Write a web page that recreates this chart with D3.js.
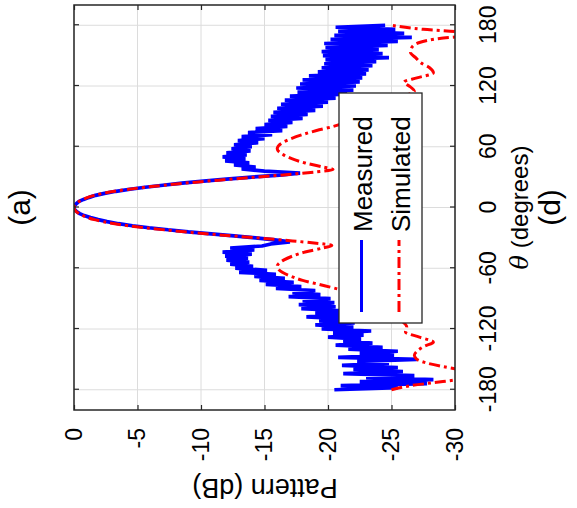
<!DOCTYPE html>
<html><head><meta charset="utf-8">
<script src="https://cdn.jsdelivr.net/npm/d3@7"></script>
<style>body{margin:0;background:#fff;} svg{display:block;font-family:"Liberation Sans",Arial,sans-serif;}</style>
</head><body>
<svg id="chart" width="577" height="508"></svg>
<script>
// ---- data ----
const thetaTicks = [-180, -120, -60, 0, 60, 120, 180];
const dbTicks = [0, -5, -10, -15, -20, -25, -30];
const seriesNames = ["Measured", "Simulated"];

// Measured pattern (dB), theta from -180 to 180 in 2-degree steps
const measuredStart = -180, measuredStep = 2;
const measuredValues = [
  -20.5, -25.5, -21.0, -27.8, -22.5, -28.3, -23.0, -26.8, -21.2, -25.9,
  -22.0, -25.5, -21.1, -24.8, -22.3, -27.0, -20.8, -25.2, -22.5, -25.5,
  -21.6, -24.3, -20.6, -23.5, -21.2, -22.6, -20.0, -22.8, -20.4, -23.4,
  -19.5, -22.0, -19.0, -22.1, -19.3, -21.5, -18.3, -21.2, -19.0, -21.3,
  -17.9, -20.6, -17.7, -20.5, -18.0, -20.2, -16.9, -19.4, -17.2, -19.0,
  -15.9, -17.9, -15.1, -17.3, -14.6, -16.6, -14.2, -15.9, -13.0, -15.2,
  -12.7, -14.1, -12.3, -13.8, -12.0, -13.7, -11.9, -14.0, -11.7, -14.2,
  -12.3, -14.8, -15.5, -17.0, -15.8, -14.3, -12.6, -10.8, -9.0, -7.4,
  -5.9, -4.6, -3.5, -2.6, -1.9, -1.3, -0.8, -0.45, -0.2, -0.05,
  0,
  -0.05, -0.2, -0.4, -0.75, -1.2, -1.7, -2.4, -3.3, -4.4, -5.6,
  -7.0, -8.5, -10.2, -12.0, -14.0, -16.2, -17.8, -15.0, -13.2, -14.3,
  -12.6, -13.8, -11.9, -13.5, -11.7, -13.6, -12.0, -13.9, -12.4, -14.0,
  -12.6, -14.5, -12.9, -15.0, -13.2, -15.6, -13.7, -16.4, -14.3, -16.8,
  -15.0, -17.2, -15.3, -18.0, -15.5, -18.4, -15.7, -19.0, -16.0, -19.6,
  -16.3, -20.0, -16.6, -20.6, -17.0, -21.5, -17.6, -22.0, -17.5, -22.2,
  -17.8, -22.5, -18.0, -22.7, -18.5, -23.0, -19.2, -23.2, -19.5, -23.5,
  -19.7, -23.8, -19.8, -24.8, -19.6, -24.3, -19.5, -24.0, -19.8, -24.7,
  -19.7, -25.5, -20.2, -26.6, -20.5, -26.0, -20.8, -25.3, -20.6, -24.5
];

// Simulated pattern: theta (deg) and dB
const simulatedTheta = [
  -180, -176, -173, -170, -167, -164, -161, -157, -153, -150, -146, -142, -137, -133,
  -128, -123, -118, -110, -100, -90, -81, -76, -72, -68, -64, -58, -52, -48, -44, -40,
  -37.5, -35, -33, -30, -27, -24, -20, -16, -12, -8, -4, 0,
  4, 8, 12, 16, 20, 24, 27, 30, 33, 35, 37.5, 40, 44, 48, 52, 58, 64, 68, 72, 76,
  80, 84, 90, 100, 110, 115, 119, 124, 128, 133, 138, 143, 148, 153, 158, 163, 167,
  170, 173, 176, 180
];
const simulatedValues = [
  -25.0, -26.5, -28.3, -30.2, -31.5, -32.0, -30.8, -29.0, -27.6, -27.0, -26.8, -27.0, -27.6, -28.3,
  -27.2, -26.1, -26.2, -25.6, -24.4, -22.8, -20.9, -19.3, -18.0, -17.1, -16.4, -16.0, -16.5, -17.2, -18.2, -19.6,
  -20.3, -18.9, -17.2, -14.4, -11.4, -8.7, -5.6, -3.2, -1.6, -0.7, -0.18, 0,
  -0.18, -0.7, -1.6, -3.2, -5.6, -8.7, -11.4, -14.4, -17.2, -18.9, -20.4, -19.6, -18.2, -17.2, -16.5, -16.0, -16.4, -17.1, -18.0, -19.1,
  -20.4, -21.4, -22.6, -24.6, -26.0, -26.8, -26.5, -26.0, -27.0, -28.3, -28.0, -27.3, -26.9, -26.5, -26.6, -27.2, -28.8,
  -31.0, -30.5, -27.5, -25.0
];

// ---- layout (drawn in the un-rotated frame, then rotated -90deg) ----
const svg = d3.select("#chart");
const g = svg.append("g").attr("transform", "translate(0,508) rotate(-90)");

const x = d3.scaleLinear().domain([-200, 200]).range([98, 503]);
const y = d3.scaleLinear().domain([0, -30]).range([74, 455]);

const axisColor = "#262626";
const gridColor = "#dcdcdc";

g.append("rect").attr("x", 98).attr("y", 74).attr("width", 405).attr("height", 381).attr("fill", "#fff");

// grid
g.append("g").selectAll("line").data(thetaTicks).join("line")
  .attr("x1", d => x(d)).attr("x2", d => x(d)).attr("y1", 74).attr("y2", 455)
  .attr("stroke", gridColor).attr("stroke-width", 1);
g.append("g").selectAll("line").data(dbTicks).join("line")
  .attr("x1", 98).attr("x2", 503).attr("y1", d => y(d)).attr("y2", d => y(d))
  .attr("stroke", gridColor).attr("stroke-width", 1);

svg.append("defs").append("clipPath").attr("id", "clip")
  .append("rect").attr("x", 98).attr("y", 74).attr("width", 405).attr("height", 381);

const measured = measuredValues.map((v, i) => [measuredStart + i * measuredStep, v]);
const simulated = simulatedTheta.map((t, i) => [t, simulatedValues[i]]);

const plot = g.append("g").attr("clip-path", "url(#clip)");
plot.append("path").datum(measured)
  .attr("d", d3.line().x(d => x(d[0])).y(d => y(d[1])))
  .attr("fill", "none").attr("stroke", "#0000ff").attr("stroke-width", 3.7)
  .attr("stroke-linejoin", "bevel");
plot.append("path").datum(simulated)
  .attr("d", d3.line().x(d => x(d[0])).y(d => y(d[1])).curve(d3.curveMonotoneX))
  .attr("fill", "none").attr("stroke", "#ff0000").attr("stroke-width", 3)
  .attr("stroke-dasharray", "11,4,3,4");

// axes
const fontTick = 23;
const axB = g.append("g").attr("transform", "translate(0,455)")
  .call(d3.axisBottom(x).tickValues(thetaTicks).tickSizeInner(-5).tickSizeOuter(0).tickPadding(25));
const axL = g.append("g").attr("transform", "translate(98,0)")
  .call(d3.axisLeft(y).tickValues(dbTicks).tickSizeInner(-5).tickSizeOuter(0).tickPadding(18));
const axT = g.append("g").attr("transform", "translate(0,74)")
  .call(d3.axisTop(x).tickValues(thetaTicks).tickSizeInner(-5).tickSizeOuter(0).tickFormat(""));
const axR = g.append("g").attr("transform", "translate(503,0)")
  .call(d3.axisRight(y).tickValues(dbTicks).tickSizeInner(-5).tickSizeOuter(0).tickFormat(""));
[axB, axL, axT, axR].forEach(a => {
  a.select(".domain").remove();
  a.selectAll("line").attr("stroke", axisColor).attr("stroke-width", 1.2);
  a.selectAll("text").attr("fill", "#000").attr("font-size", fontTick)
    .attr("font-family", '"Liberation Sans", Arial, sans-serif');
});
axL.selectAll("text").text(d => String(d));
axB.selectAll("text").text(d => String(d));

g.append("rect").attr("x", 98).attr("y", 74).attr("width", 405).attr("height", 381)
  .attr("fill", "none").attr("stroke", axisColor).attr("stroke-width", 1.5);

// legend
const lg = g.append("g");
lg.append("rect").attr("x", 185).attr("y", 339).attr("width", 230).attr("height", 83)
  .attr("fill", "#fff").attr("stroke", axisColor).attr("stroke-width", 1.3);
const legendRows = [
  {name: seriesNames[0], color: "#0000ff", dash: null, ly: 361.5, ty: 372},
  {name: seriesNames[1], color: "#ff0000", dash: "11,4,3,4", ly: 399, ty: 410}
];
legendRows.forEach(r => {
  lg.append("line").attr("x1", 196).attr("x2", 268).attr("y1", r.ly).attr("y2", r.ly)
    .attr("stroke", r.color).attr("stroke-width", 3)
    .attr("stroke-dasharray", r.dash);
  lg.append("text").attr("x", 276).attr("y", r.ty).attr("font-size", 26).attr("fill", "#000")
    .text(r.name);
});

// labels
g.append("text").attr("transform", "translate(29,265) rotate(-90)")
  .attr("text-anchor", "middle").attr("font-size", 27).attr("fill", "#000").text("Pattern (dB)");
const tl = g.append("text").attr("x", x(0)).attr("y", 528).attr("text-anchor", "middle")
  .attr("font-size", 24).attr("fill", "#000");
tl.append("tspan").attr("font-family", '"DejaVu Serif","Liberation Serif",serif').attr("font-style", "italic").text("θ");
tl.append("tspan").text(" (degrees)");
g.append("text").attr("x", x(0)).attr("y", 560).attr("text-anchor", "middle")
  .attr("font-size", 30).attr("fill", "#000").text("(d)");
g.append("text").attr("x", x(0)).attr("y", 30).attr("text-anchor", "middle")
  .attr("font-size", 30).attr("fill", "#000").text("(a)");
</script>
</body></html>
